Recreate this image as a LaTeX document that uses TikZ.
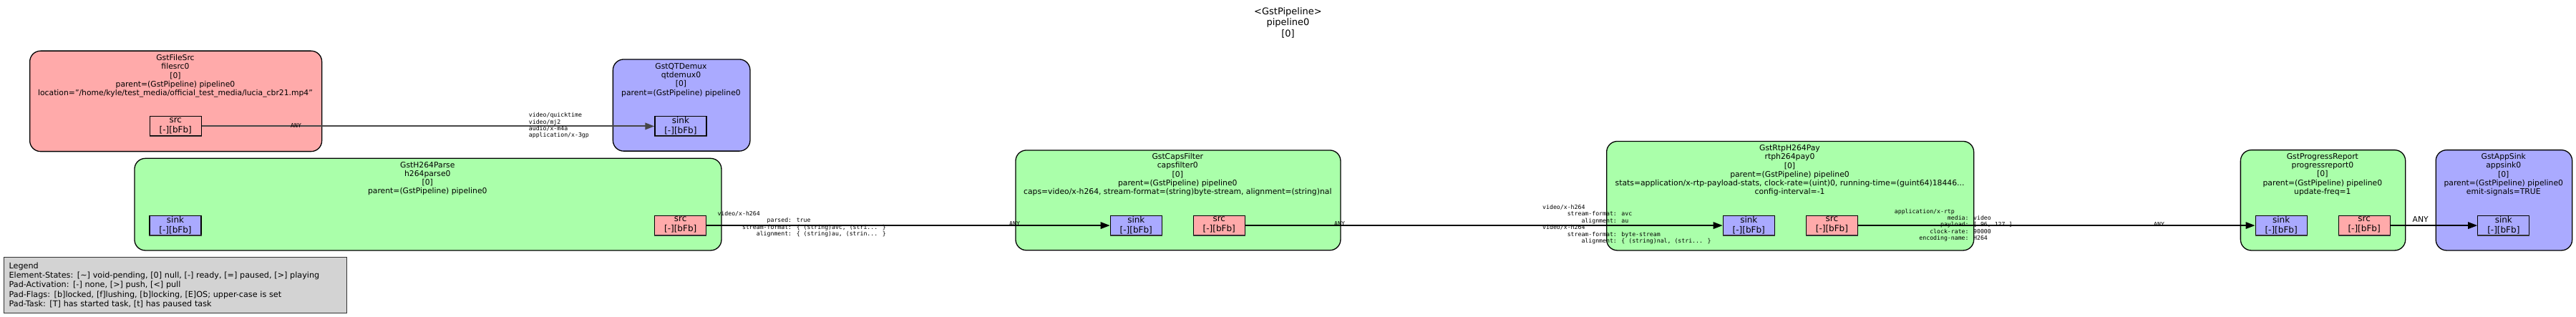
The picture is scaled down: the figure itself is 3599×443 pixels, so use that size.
\documentclass[tikz,border=0pt]{standalone}
\usepackage{fontspec}
\setmainfont{DejaVu Sans}
\newfontfamily\capmono{DejaVu Sans Mono}
\usetikzlibrary{arrows.meta}
\definecolor{srcfill}{HTML}{FFAAAA}
\definecolor{sinkfill}{HTML}{AAAAFF}
\definecolor{filtfill}{HTML}{AAFFAA}
\definecolor{legfill}{HTML}{D3D3D3}
\newcommand\ci[1]{\hspace*{#1\fontcharwd\font`0}}
\tikzset{
  element/.style={draw=black, line width=1.3pt, rounded corners=15pt, inner sep=0pt, anchor=north west},
  eltitle/.style={anchor=north, inner sep=0pt, align=center, font=\fontsize{10.8}{12.2}\selectfont, execute at begin node=\rule{0pt}{9pt}},
  pad/.style={draw=black, line width=1.2pt, minimum width=72pt, minimum height=27pt, inner sep=0pt, anchor=north west, align=center, font=\fontsize{12}{14}\selectfont, execute at begin node=\rule{0pt}{9pt}, execute at end node=\rule[-3pt]{0pt}{3pt}},
  padshadow/.style={draw=black!80, line width=1.8pt},
  link/.style={line width=1.6pt, -{Triangle[length=13pt,width=9.5pt]}},
  capslbl/.style={anchor=north west, inner sep=0pt, align=left, font=\capmono\fontsize{8.2}{9.4}\selectfont, execute at begin node=\rule{0pt}{6.5pt}},
  pipetitle/.style={anchor=north, inner sep=0pt, align=center, font=\fontsize{13}{15.3}\selectfont, execute at begin node=\rule{0pt}{10.5pt}},
  legendbox/.style={draw=black!80, line width=1.3pt, fill=legfill, anchor=north west, minimum width=479pt, minimum height=78pt, inner xsep=6pt, inner ysep=0pt, align=left, text width=465pt, font=\fontsize{11.2}{13.3}\selectfont}
}
\begin{document}
\begin{tikzpicture}[x=1pt,y=-1pt]
\useasboundingbox (0,0) rectangle (3599,443);
\fill[white] (0,0) rectangle (3599,443);

% pipeline title
\node[pipetitle] (pipe) at (1799.5,10.5) {<GstPipeline>\\pipeline0\\{[0]}};

% elements
\node[element, fill=srcfill, minimum width=408pt, minimum height=140.5pt] (filesrc) at (41,70.5) {};
\node[eltitle] (filesrc-t) at (245,76.3) {GstFileSrc\\filesrc0\\{[0]}\\parent=(GstPipeline) pipeline0\\location="/home/kyle/test\_media/official\_test\_media/lucia\_cbr21.mp4"};

\node[element, fill=sinkfill, minimum width=191.6pt, minimum height=128.2pt] (qtdemux) at (855.7,82.3) {};
\node[eltitle] (qtdemux-t) at (951.5,88.3) {GstQTDemux\\qtdemux0\\{[0]}\\parent=(GstPipeline) pipeline0};

\node[element, fill=filtfill, minimum width=820pt, minimum height=128.6pt] (h264parse) at (187.3,220.7) {};
\node[eltitle] (h264parse-t) at (597.3,226) {GstH264Parse\\h264parse0\\{[0]}\\parent=(GstPipeline) pipeline0};

\node[element, fill=filtfill, minimum width=454pt, minimum height=139.8pt] (capsfilter) at (1418.3,209.3) {};
\node[eltitle] (capsfilter-t) at (1645.3,214.3) {GstCapsFilter\\capsfilter0\\{[0]}\\parent=(GstPipeline) pipeline0\\caps=video/x-h264, stream-format=(string)byte-stream, alignment=(string)nal};

\node[element, fill=filtfill, minimum width=513pt, minimum height=152.5pt] (rtppay) at (2244,196.8) {};
\node[eltitle] (rtppay-t) at (2500.5,202.5) {GstRtpH264Pay\\rtph264pay0\\{[0]}\\parent=(GstPipeline) pipeline0\\stats=application/x-rtp-payload-stats, clock-rate=(uint)0, running-time=(guint64)18446...\\config-interval=-1};

\node[element, fill=filtfill, minimum width=230.3pt, minimum height=140.3pt] (progress) at (3129.7,209) {};
\node[eltitle] (progress-t) at (3244.85,214.3) {GstProgressReport\\progressreport0\\{[0]}\\parent=(GstPipeline) pipeline0\\update-freq=1};

\node[element, fill=sinkfill, minimum width=190.5pt, minimum height=140.3pt] (appsink) at (3402.5,209) {};
\node[eltitle] (appsink-t) at (3497.75,214.3) {GstAppSink\\appsink0\\{[0]}\\parent=(GstPipeline) pipeline0\\emit-signals=TRUE};

% pads
\node[pad, fill=srcfill] (filesrc-src) at (208.7,162.3) {src\\{[-][bFb]}};
\node[pad, fill=sinkfill] (qtdemux-sink) at (914.3,162.3) {sink\\{[-][bFb]}};
\node[pad, fill=sinkfill] (h264parse-sink) at (208.4,301) {sink\\{[-][bFb]}};
\node[pad, fill=srcfill] (h264parse-src) at (914.1,301) {src\\{[-][bFb]}};
\node[pad, fill=sinkfill] (capsfilter-sink) at (1550.7,301) {sink\\{[-][bFb]}};
\node[pad, fill=srcfill] (capsfilter-src) at (1666.7,301) {src\\{[-][bFb]}};
\node[pad, fill=sinkfill] (rtppay-sink) at (2406.7,301) {sink\\{[-][bFb]}};
\node[pad, fill=srcfill] (rtppay-src) at (2522.8,301) {src\\{[-][bFb]}};
\node[pad, fill=sinkfill] (progress-sink) at (3150.5,301) {sink\\{[-][bFb]}};
\node[pad, fill=srcfill] (progress-src) at (3266.5,301) {src\\{[-][bFb]}};
\node[pad, fill=sinkfill] (appsink-sink) at (3461.2,301) {sink\\{[-][bFb]}};

\foreach \p in {filesrc-src,qtdemux-sink,h264parse-sink,h264parse-src,capsfilter-sink,capsfilter-src,rtppay-sink,rtppay-src,progress-sink,progress-src,appsink-sink}
  \draw[padshadow] (\p.south west) -- (\p.south east);

% links
\draw[link, line width=2pt, draw=black!72, fill=black] (filesrc-src.east) -- (qtdemux-sink.west);
\draw[link] (h264parse-src.east) -- (capsfilter-sink.west);
\draw[link] (capsfilter-src.east) -- (rtppay-sink.west);
\draw[link] (rtppay-src.east) -- (progress-sink.west);
\draw[link] (progress-src.east) -- (appsink-sink.west);

% caps labels
\node[capslbl] (l1t) at (406,171.5) {ANY};
\node[capslbl] (l1h) at (738.7,157.3) {video/quicktime\\video/mj2\\audio/x-m4a\\application/x-3gp};
\node[capslbl] (l2t) at (1002.3,295) {video/x-h264\\\ci{14}parsed: true\\\ci{7}stream-format: \{ (string)avc, (stri... \}\\\ci{11}alignment: \{ (string)au, (strin... \}};
\node[capslbl] (l2h) at (1410,309.2) {ANY};
\node[capslbl] (l3t) at (1864,309.2) {ANY};
\node[capslbl] (l3h) at (2155,286) {video/x-h264\\\ci{7}stream-format: avc\\\ci{11}alignment: au\\video/x-h264\\\ci{7}stream-format: byte-stream\\\ci{11}alignment: \{ (string)nal, (stri... \}};
\node[capslbl] (l4t) at (2646.7,291.7) {application/x-rtp\\\ci{15}media: video\\\ci{13}payload: [ 96, 127 ]\\\ci{10}clock-rate: 90000\\\ci{7}encoding-name: H264};
\node[capslbl] (l4h) at (3009,309.5) {ANY};
\node[anchor=base, inner sep=0pt, font=\fontsize{10.8}{12.2}\selectfont] (l5) at (3381.7,310.5) {ANY};

% legend
\node[legendbox] (legend) at (5,359) {Legend\\Element-States: [\textasciitilde] void-pending, [0] null, [-] ready, [=] paused, [>] playing\\Pad-Activation: [-] none, [>] push, [<] pull\\Pad-Flags: [b]locked, [f]lushing, [b]locking, [E]OS; upper-case is set\\Pad-Task: [T] has started task, [t] has paused task};
\end{tikzpicture}
\end{document}
